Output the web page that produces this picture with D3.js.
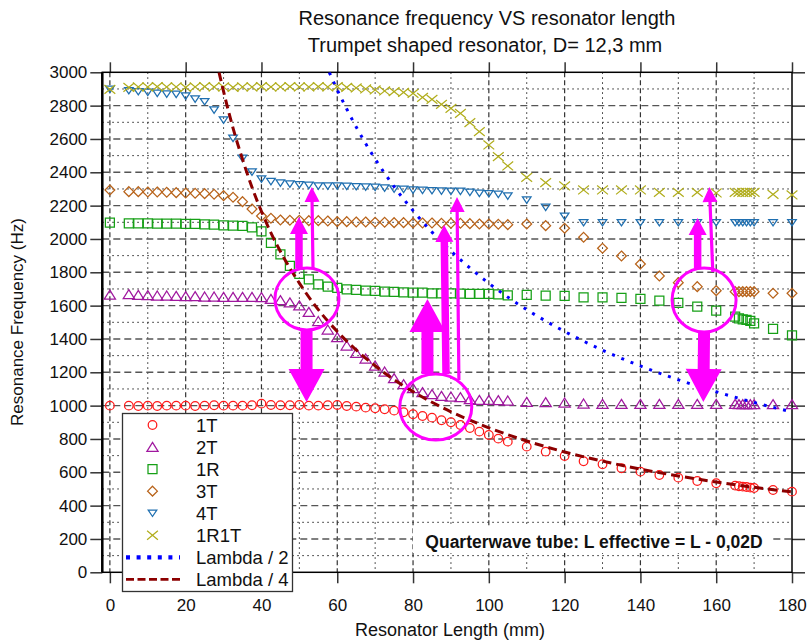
<!DOCTYPE html>
<html>
<head>
<meta charset="utf-8">
<script src="https://cdn.jsdelivr.net/npm/d3@7"></script>
<style>
  body { margin: 0; background: #fff; }
  text { font-family: "Liberation Sans", Arial, sans-serif; }
</style>
</head>
<body>
<svg id="chart" width="808" height="641"></svg>
<script>
// Resonator lengths (mm) at which the modes were measured
const lengths = [0, 5, 7.5, 10, 12.5, 15, 17.5, 20, 22.5, 25, 27.5, 30, 32.5, 35, 37.5, 40,
  42.5, 45, 47.5, 50, 52.5, 55, 57.5, 60, 62.5, 65, 67.5, 70, 72.5, 75, 77.5, 80, 82.5, 85,
  87.5, 90, 92.5, 95, 97.5, 100, 102.5, 105, 110, 115, 120, 125, 130, 135, 140, 145, 150,
  155, 160, 165, 166, 167, 168, 169, 170, 175, 180];

// Resonance frequencies (Hz) per mode
const mode1T = [1000, 1000, 998, 1000, 998, 1000, 1000, 1000, 998, 1000, 1002, 1000, 1000, 1000, 1002, 1012,
  1004, 1002, 1002, 1004, 1000, 1000, 1002, 1004, 998, 994, 988, 984, 978, 970, 960, 948, 938, 928,
  912, 900, 884, 866, 844, 824, 802, 784, 754, 724, 698, 666, 648, 624, 604, 584, 568,
  548, 534, 520, 516, 514, 512, 508, 506, 494, 484];
const mode2T = [1665, 1668, 1664, 1662, 1660, 1660, 1658, 1656, 1656, 1654, 1654, 1652, 1652, 1652, 1652, 1650,
  1640, 1632, 1619, 1601, 1562, 1507, 1456, 1410, 1360, 1316, 1282, 1240, 1204, 1164, 1128, 1104, 1080, 1068,
  1058, 1054, 1050, 1038, 1034, 1034, 1032, 1030, 1022, 1020, 1018, 1012, 1010, 1010, 1010, 1010, 1010,
  1010, 1010, 1010, 1008, 1008, 1008, 1008, 1008, 1008, 1008];
const mode1R = [2098, 2094, 2094, 2094, 2092, 2092, 2092, 2090, 2090, 2088, 2086, 2082, 2080, 2078, 2070, 2046,
  1976, 1907, 1838, 1790, 1758, 1728, 1714, 1706, 1698, 1694, 1690, 1688, 1684, 1682, 1680, 1678, 1678, 1674,
  1674, 1674, 1672, 1670, 1670, 1670, 1668, 1662, 1664, 1660, 1658, 1650, 1650, 1646, 1640, 1630, 1616,
  1594, 1570, 1534, 1524, 1518, 1514, 1508, 1494, 1460, 1422];
const mode3T = [2294, 2284, 2284, 2282, 2282, 2280, 2278, 2276, 2274, 2272, 2268, 2260, 2250, 2224, 2180, 2138,
  2124, 2114, 2112, 2112, 2110, 2110, 2108, 2104, 2104, 2102, 2102, 2100, 2100, 2098, 2098, 2096, 2096, 2096,
  2094, 2094, 2094, 2092, 2090, 2090, 2088, 2086, 2090, 2080, 2064, 2010, 1944, 1898, 1850, 1778, 1738,
  1714, 1690, 1684, 1684, 1684, 1684, 1684, 1684, 1674, 1674];
const mode4T = [2898, 2890, 2884, 2880, 2874, 2870, 2868, 2858, 2840, 2824, 2774, 2714, 2604, 2484, 2402, 2360,
  2345, 2336, 2330, 2326, 2322, 2318, 2318, 2318, 2316, 2314, 2312, 2310, 2306, 2300, 2298, 2294, 2292, 2290,
  2288, 2286, 2286, 2280, 2274, 2272, 2268, 2258, 2234, 2190, 2136, 2098, 2098, 2098, 2098, 2098, 2098,
  2098, 2098, 2098, 2098, 2098, 2098, 2098, 2098, 2098, 2098];
const mode1R1T = [2898, 2910, 2912, 2912, 2914, 2912, 2912, 2910, 2912, 2914, 2912, 2912, 2910, 2912, 2912, 2914,
  2912, 2912, 2914, 2912, 2912, 2914, 2912, 2914, 2910, 2906, 2900, 2894, 2888, 2884, 2880, 2874, 2850, 2838,
  2808, 2784, 2754, 2698, 2644, 2564, 2494, 2438, 2370, 2338, 2318, 2294, 2294, 2294, 2294, 2280, 2280,
  2280, 2276, 2280, 2280, 2280, 2280, 2280, 2280, 2268, 2264];

// Open-tube (half wave) and quarterwave reference curves
const halfWaveLen  = [57.9, 60, 62.5, 65, 70, 75, 80, 85, 90, 95, 100, 105, 110, 120, 130, 140, 150, 160, 170, 180];
const halfWaveFreq = [3000, 2895, 2780, 2672, 2480, 2314, 2170, 2041, 1927, 1826, 1734, 1651, 1576, 1445, 1333, 1238, 1155, 1083, 1019, 962];
const quarterWaveLen  = [28.8, 30, 32.5, 35, 37.5, 40, 42.5, 45, 50, 55, 60, 65, 70, 75, 80, 85, 90, 95, 100, 110, 120, 130, 140, 150, 160, 170, 180];
const quarterWaveFreq = [3000, 2885, 2665, 2478, 2310, 2165, 2037, 1925, 1735, 1576, 1445, 1334, 1239, 1156, 1084, 1020, 963, 913, 867, 788, 722, 667, 619, 578, 542, 510, 482];

// Axis ticks and grid
const xTicks = [0, 20, 40, 60, 80, 100, 120, 140, 160, 180];
const yTicks = [0, 200, 400, 600, 800, 1000, 1200, 1400, 1600, 1800, 2000, 2200, 2400, 2600, 2800, 3000];
const xGridMajor = [0, 20, 40, 60, 80, 100, 120, 140, 160];
const xGridMinor = [10, 30, 50, 70, 90, 110, 130, 150, 170];
const yGridMajor = [200, 400, 600, 800, 1000, 1200, 1400, 1600, 1800, 2000, 2200, 2400, 2600, 2800];
const yGridMinor = [100, 300, 500, 700, 900, 1100, 1300, 1500, 1700, 1900, 2100, 2300, 2500, 2700, 2900];

// Highlighted mode-crossing regions: centres in (mm, Hz)
const highlightLen  = [52.0, 86.0, 156.8];
const highlightFreq = [1640, 992, 1634];
// Arrows: from (mm, Hz) to (mm, Hz), with a weight class
const arrowFromLen  = [51.9, 49.9, 53.6, 83.8, 88.7, 92.1, 156.8, 155.1, 159.1];
const arrowFromFreq = [1448, 1826, 1826, 1190, 1190, 1154, 1448, 1826, 1802];
const arrowToLen    = [51.9, 49.9, 53.3, 83.8, 88.2, 91.6, 156.6, 155.1, 158.2];
const arrowToFreq   = [1022, 2132, 2312, 1640, 2084, 2252, 1022, 2126, 2312];
const arrowWeight   = ["heavy", "medium", "thin", "heavy", "medium", "thin", "heavy", "medium", "thin"];

// ---------------------------------------------------------------------------
const svg = d3.select("#chart");
const plot = { left: 102.3, right: 792, top: 72.3, bottom: 572.3 };

const x = d3.scaleLinear().domain([-2, 180]).range([plot.left, plot.right]);
const y = d3.scaleLinear().domain([0, 3000]).range([plot.bottom, plot.top]);

svg.append("rect").attr("width", 808).attr("height", 641).attr("fill", "#fff");

svg.append("defs").append("clipPath").attr("id", "plotClip")
  .append("rect")
  .attr("x", plot.left).attr("y", plot.top)
  .attr("width", plot.right - plot.left).attr("height", plot.bottom - plot.top);

// Grid
const grid = svg.append("g");
grid.selectAll(".gxm").data(xGridMinor).join("line")
  .attr("x1", d => x(d)).attr("x2", d => x(d)).attr("y1", plot.top).attr("y2", plot.bottom)
  .attr("stroke", "#222").attr("stroke-width", 1).attr("stroke-dasharray", "1.5,3.5");
grid.selectAll(".gym").data(yGridMinor).join("line")
  .attr("y1", d => y(d)).attr("y2", d => y(d)).attr("x1", plot.left).attr("x2", plot.right)
  .attr("stroke", "#222").attr("stroke-width", 1).attr("stroke-dasharray", "1.5,3.5");
grid.selectAll(".gxM").data(xGridMajor).join("line")
  .attr("x1", d => x(d)).attr("x2", d => x(d)).attr("y1", plot.top).attr("y2", plot.bottom)
  .attr("stroke", "#333").attr("stroke-width", 1.2).attr("stroke-dasharray", "5,3");
grid.selectAll(".gyM").data(yGridMajor).join("line")
  .attr("y1", d => y(d)).attr("y2", d => y(d)).attr("x1", plot.left).attr("x2", plot.right)
  .attr("stroke", "#555").attr("stroke-width", 1.4).attr("stroke-dasharray", "7,4");

// Axes
const fmt = d3.format("d");
const axL = svg.append("g").attr("transform", `translate(${plot.left},0)`)
  .call(d3.axisLeft(y).tickValues(yTicks).tickSize(12).tickPadding(3).tickFormat(fmt));
const axB = svg.append("g").attr("transform", `translate(0,${plot.bottom})`)
  .call(d3.axisBottom(x).tickValues(xTicks).tickSize(11).tickPadding(16).tickFormat(fmt));
const axT = svg.append("g").attr("transform", `translate(0,${plot.top})`)
  .call(d3.axisTop(x).tickValues(xTicks).tickSize(10).tickFormat(""));
const axR = svg.append("g").attr("transform", `translate(${plot.right},0)`)
  .call(d3.axisRight(y).tickValues(yTicks).tickSize(13).tickFormat(""));
[axL, axB, axT, axR].forEach(a => {
  a.select(".domain").remove();
  a.selectAll(".tick line").attr("stroke", "#333").attr("stroke-width", 1.5);
  a.selectAll("text").attr("font-size", 17).attr("fill", "#111")
    .attr("font-family", "'Liberation Sans', Arial, sans-serif");
});

// Frame
svg.append("rect")
  .attr("x", plot.left).attr("y", plot.top)
  .attr("width", plot.right - plot.left).attr("height", plot.bottom - plot.top)
  .attr("fill", "none").attr("stroke", "#000").attr("stroke-width", 1.5);
svg.append("line").attr("x1", plot.left).attr("x2", plot.left)
  .attr("y1", plot.top).attr("y2", plot.bottom).attr("stroke", "#000").attr("stroke-width", 2.5);

// Marker shapes
const shapes = {
  circle: "M-4.3,0a4.3,4.3 0 1,0 8.6,0a4.3,4.3 0 1,0 -8.6,0",
  triUp: "M0,-4.6L5.6,4.4L-5.6,4.4Z",
  square: "M-4.5,-4.5h9v9h-9Z",
  diamond: "M0,-4.9L4.9,0L0,4.9L-4.9,0Z",
  triDown: "M-4.3,-3.1L4.3,-3.1L0,3.3Z",
  cross: "M-5.4,-4.4L5.4,4.4M5.4,-4.4L-5.4,4.4"
};

const series = [
  { name: "1T",   values: mode1T,   color: "#ff1a1a", shape: "circle" },
  { name: "2T",   values: mode2T,   color: "#a0189f", shape: "triUp" },
  { name: "1R",   values: mode1R,   color: "#16a016", shape: "square" },
  { name: "3T",   values: mode3T,   color: "#b8631a", shape: "diamond" },
  { name: "4T",   values: mode4T,   color: "#1f6fb0", shape: "triDown" },
  { name: "1R1T", values: mode1R1T, color: "#b1ad1c", shape: "cross" }
];

const marks = svg.append("g");
series.forEach(s => {
  marks.append("g").selectAll("path")
    .data(lengths.map((L, i) => [L, s.values[i]]))
    .join("path")
    .attr("transform", d => `translate(${x(d[0])},${y(d[1])})`)
    .attr("d", shapes[s.shape])
    .attr("fill", "none").attr("stroke", s.color).attr("stroke-width", 1.25);
});

// Reference curves
const line = d3.line().x(d => x(d[0])).y(d => y(d[1])).curve(d3.curveMonotoneX);
const curves = svg.append("g").attr("clip-path", "url(#plotClip)");
curves.append("path")
  .attr("d", line(halfWaveLen.map((L, i) => [L, halfWaveFreq[i]])))
  .attr("fill", "none").attr("stroke", "#0000ff").attr("stroke-width", 3)
  .attr("stroke-dasharray", "3,7");
curves.append("path")
  .attr("d", line(quarterWaveLen.map((L, i) => [L, quarterWaveFreq[i]])))
  .attr("fill", "none").attr("stroke", "#8c0000").attr("stroke-width", 3)
  .attr("stroke-dasharray", "9,5");

// Formula note
const note = svg.append("g");
note.append("rect").attr("x", 413).attr("y", 526).attr("width", 360).attr("height", 27).attr("fill", "#fff");
note.append("text").attr("x", 594).attr("y", 547.5).attr("text-anchor", "middle")
  .attr("font-size", 17.5).attr("font-weight", "bold").attr("fill", "#111")
  .text("Quarterwave tube: L effective = L - 0,02D");

// Legend
const legend = svg.append("g");
legend.append("rect").attr("x", 122.5).attr("y", 413.5).attr("width", 170).attr("height", 178)
  .attr("fill", "#fff").attr("stroke", "#333").attr("stroke-width", 1.3);
const rowY = i => 425 + i * 22.05;
series.forEach((s, i) => {
  legend.append("path").attr("transform", `translate(152.5,${rowY(i)})`)
    .attr("d", shapes[s.shape]).attr("fill", "none").attr("stroke", s.color).attr("stroke-width", 1.25);
  legend.append("text").attr("x", 196).attr("y", rowY(i)).attr("dy", "0.36em")
    .attr("font-size", 18.5).attr("fill", "#111").text(s.name);
});
const lineKeys = [
  { name: "Lambda / 2", color: "#0000ff", dash: "4,6.6", width: 4.2 },
  { name: "Lambda / 4", color: "#8c0000", dash: "8,3.5", width: 2.6 }
];
lineKeys.forEach((k, j) => {
  const yy = rowY(6 + j);
  legend.append("line").attr("x1", 126).attr("x2", 180).attr("y1", yy).attr("y2", yy)
    .attr("stroke", k.color).attr("stroke-width", k.width).attr("stroke-dasharray", k.dash);
  legend.append("text").attr("x", 196).attr("y", yy).attr("dy", "0.36em")
    .attr("font-size", 18.5).attr("fill", "#111").text(k.name);
});

// Titles
svg.append("text").attr("x", 487).attr("y", 25).attr("text-anchor", "middle")
  .attr("font-size", 20).attr("fill", "#111").text("Resonance frequency VS resonator length");
svg.append("text").attr("x", 485).attr("y", 52).attr("text-anchor", "middle")
  .attr("font-size", 20).attr("fill", "#111").text("Trumpet shaped resonator, D= 12,3 mm");
svg.append("text").attr("x", 450).attr("y", 636).attr("text-anchor", "middle")
  .attr("font-size", 18).attr("fill", "#111").text("Resonator Length (mm)");
svg.append("text").attr("transform", "translate(23,322) rotate(-90)").attr("text-anchor", "middle")
  .attr("font-size", 17).attr("fill", "#111").text("Resonance Frequency (Hz)");

// Highlight circles and arrows
const magenta = "#ff00ff";
const hl = svg.append("g");
const radii = [[32, 31], [36, 33], [32, 32]];
highlightLen.forEach((L, i) => {
  hl.append("ellipse").attr("cx", x(L)).attr("cy", y(highlightFreq[i]))
    .attr("rx", radii[i][0]).attr("ry", radii[i][1])
    .attr("fill", "none").attr("stroke", magenta).attr("stroke-width", 3);
});
const arrowStyle = {
  heavy:  { shaft: 12, head: 36, headLen: 33 },
  medium: { shaft: 7.5, head: 18, headLen: 17 },
  thin:   { shaft: 3.2, head: 15, headLen: 15 }
};
function arrowPath(x0, y0, x1, y1, st) {
  const dx = x1 - x0, dy = y1 - y0, len = Math.hypot(dx, dy);
  const ux = dx / len, uy = dy / len, nx = -uy, ny = ux;
  const bx = x1 - ux * st.headLen, by = y1 - uy * st.headLen;
  const s = st.shaft / 2, h = st.head / 2;
  const p = [
    [x0 + nx * s, y0 + ny * s], [bx + nx * s, by + ny * s], [bx + nx * h, by + ny * h],
    [x1, y1],
    [bx - nx * h, by - ny * h], [bx - nx * s, by - ny * s], [x0 - nx * s, y0 - ny * s]
  ];
  return "M" + p.map(q => q.join(",")).join("L") + "Z";
}
arrowFromLen.forEach((L, i) => {
  hl.append("path")
    .attr("d", arrowPath(x(L), y(arrowFromFreq[i]), x(arrowToLen[i]), y(arrowToFreq[i]), arrowStyle[arrowWeight[i]]))
    .attr("fill", magenta);
});
</script>
</body>
</html>
